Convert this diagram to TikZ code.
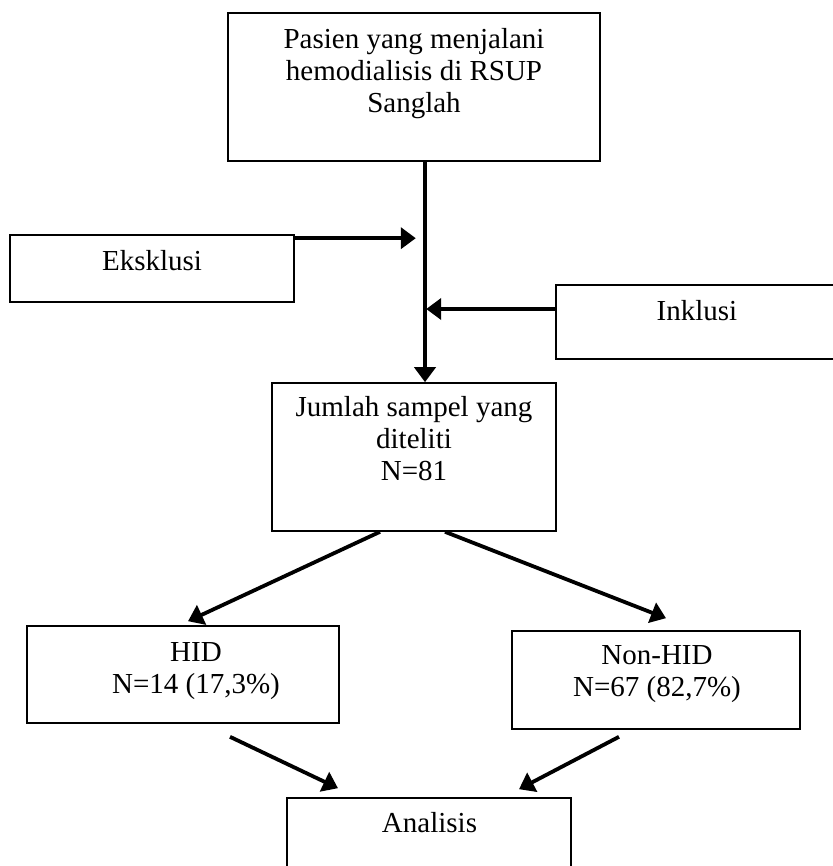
\documentclass[tikz,border=0pt]{standalone}
\usepackage{fontspec}
\setmainfont{Liberation Serif}
\usetikzlibrary{arrows.meta}
\begin{document}
\begin{tikzpicture}[x=1pt,y=-1pt,
  box/.style={draw, line width=1.6pt, inner sep=0pt, rectangle},
  txt/.style={inner sep=0pt, align=center, font=\fontsize{29}{32}\selectfont},
  arr/.style={line width=3.8pt, -{Triangle[length=15pt,width=21pt]}}]
\useasboundingbox (0,0) rectangle (832,866);
% boxes
\node[box, minimum width=372pt, minimum height=148pt] (top) at (414,87) {};
\node[box, minimum width=284pt, minimum height=67pt] (eks) at (152,268.5) {};
\node[box, minimum width=284pt, minimum height=74pt] (ink) at (698,322) {};
\node[box, minimum width=284pt, minimum height=148pt] (jml) at (414,457) {};
\node[box, minimum width=312pt, minimum height=97pt] (hid) at (183,674.5) {};
\node[box, minimum width=288pt, minimum height=98pt] (non) at (656,680) {};
\node[box, minimum width=284pt, minimum height=82pt] (ana) at (429,839) {};
% texts
\node[txt, anchor=north] (topt) at (414,25.6) {\strut Pasien yang menjalani\\hemodialisis di RSUP\\Sanglah};
\node[txt, anchor=base] (ekst) at (152,270) {Eksklusi};
\node[txt, anchor=base] (inkt) at (697,320) {Inklusi};
\node[txt, anchor=north] (jmlt) at (414,393.6) {\strut Jumlah sampel yang\\diteliti\\N=81};
\node[txt, anchor=north] (hidt) at (196,638.6) {\strut HID\\N=14 (17,3\%)};
\node[txt, anchor=north] (nont) at (657,641.6) {\strut Non-HID\\N=67 (82,7\%)};
\node[txt, anchor=base] (anat) at (429.5,832) {Analisis};
% connectors
\draw[arr, line width=4.2pt] ([xshift=11pt]top.south) -- ([xshift=11pt]jml.north);
\draw[arr] ([yshift=-4pt]eks.north east) -- ++(121,0);
\draw[arr] ([yshift=13pt]ink.west) -- ++(-129,0);
\draw[arr] ([xshift=-34pt]jml.south) -- ([xshift=5pt,yshift=4pt]hid.north);
\draw[arr] ([xshift=31pt]jml.south) -- ([xshift=10pt,yshift=12pt]non.north);
\draw[arr] ([xshift=47pt,yshift=-13pt]hid.south) -- ([xshift=-91pt,yshift=9pt]ana.north);
\draw[arr] ([xshift=-37pt,yshift=-7pt]non.south) -- ([xshift=90pt,yshift=8pt]ana.north);
\end{tikzpicture}
\end{document}
